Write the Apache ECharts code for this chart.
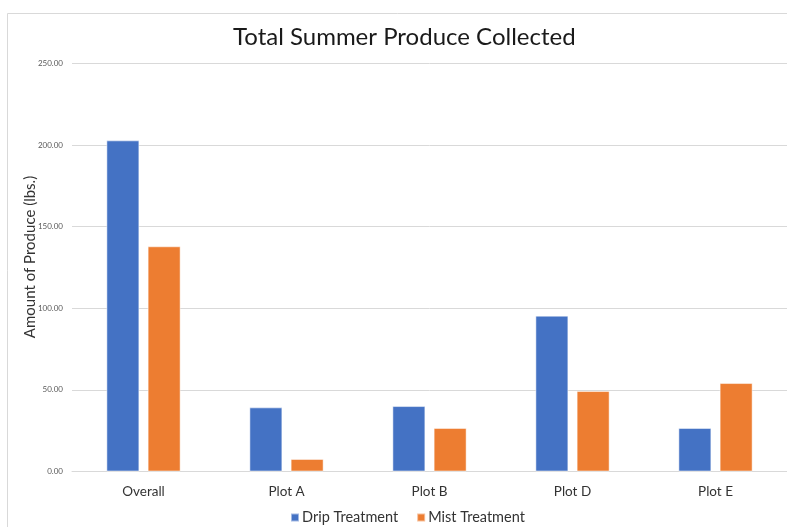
<!DOCTYPE html>
<html>
<head>
<meta charset="utf-8">
<script src="https://cdn.jsdelivr.net/npm/echarts@6/dist/echarts.min.js"></script>
<style>
  html, body { margin: 0; padding: 0; background: #fff; }
  #chart { width: 787px; height: 527px; }
</style>
</head>
<body>
<div id="chart"></div>
<script>
// Pounds of produce collected per plot over the summer
const categories = ['Overall', 'Plot A', 'Plot B', 'Plot D', 'Plot E'];
const dripValues = [202.9, 39.3, 40.1, 95.5, 26.7];
const mistValues = [138.0, 7.7, 26.7, 49.3, 54.2];
const seriesNames = ['Drip Treatment', 'Mist Treatment'];
const yAxisTitle = 'Amount of Produce (lbs.)';

const chart = echarts.init(document.getElementById('chart'), null, { renderer: 'canvas' });

const barBorder = { borderColor: 'rgba(255,255,255,0.5)', borderWidth: 1 };

chart.setOption({
  backgroundColor: '#fff',
  animation: false,
  graphic: [
    {
      // chart frame
      type: 'rect',
      shape: { x: 7.5, y: 13.5, width: 800, height: 540 },
      style: { fill: 'none', stroke: '#d9d9d9', lineWidth: 1 },
      silent: true
    },
    {
      // vertical axis title
      type: 'text',
      x: 30,
      y: 257,
      rotation: Math.PI / 2,
      style: {
        text: yAxisTitle,
        align: 'center',
        verticalAlign: 'middle',
        fontFamily: 'Lato',
        fontSize: 15,
        fill: '#333'
      },
      silent: true
    }
  ],
  title: {
    text: 'Total Summer Produce Collected',
    left: 233,
    top: 25,
    padding: 0,
    textStyle: { fontFamily: 'Lato', fontSize: 24, fontWeight: 'normal', color: '#1a1a1a' }
  },
  legend: {
    data: seriesNames,
    bottom: 2,
    left: 290,
    padding: 0,
    icon: 'rect',
    itemWidth: 8,
    itemHeight: 8,
    itemGap: 18,
    textStyle: { fontFamily: 'Lato', fontSize: 14.5, color: '#333', padding: [0, 0, 0, -2] }
  },
  grid: { left: 72, top: 63.5, width: 719, height: 408 },
  xAxis: {
    type: 'category',
    data: categories,
    axisLine: { lineStyle: { color: '#d9d9d9', width: 1 } },
    axisTick: { show: false },
    axisLabel: { fontFamily: 'Lato', fontSize: 13.5, color: '#333', margin: 13 }
  },
  yAxis: {
    type: 'value',
    min: 0,
    max: 250,
    interval: 50,
    axisLine: { show: false },
    axisTick: { show: false },
    splitLine: { lineStyle: { color: '#d9d9d9', width: 1 } },
    axisLabel: {
      fontFamily: 'Lato', fontSize: 8, color: '#595959', margin: 9,
      formatter: v => v.toFixed(2)
    }
  },
  series: [
    {
      name: seriesNames[0],
      type: 'bar',
      data: dripValues,
      barWidth: 33,
      barGap: '25%',
      itemStyle: Object.assign({ color: '#4472C4' }, barBorder)
    },
    {
      name: seriesNames[1],
      type: 'bar',
      data: mistValues,
      barWidth: 33,
      itemStyle: Object.assign({ color: '#ED7D31' }, barBorder)
    }
  ]
});
</script>
</body>
</html>
